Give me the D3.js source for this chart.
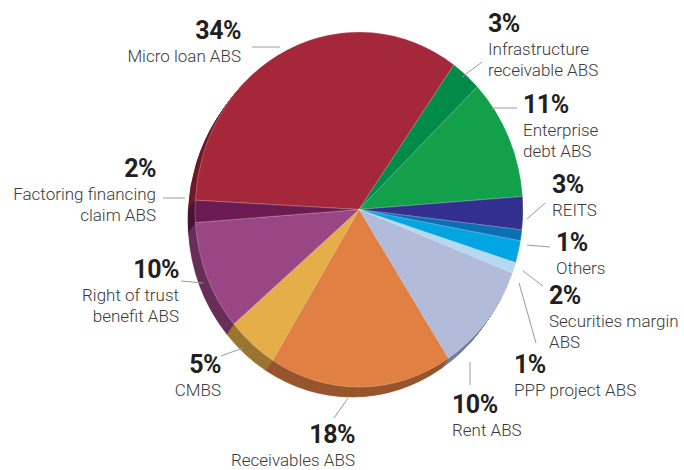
<!DOCTYPE html>
<html><head><meta charset="utf-8">
<script src="https://cdn.jsdelivr.net/npm/d3@7"></script>
<style>
html,body{margin:0;padding:0;background:#fff;}
svg{display:block;}
</style></head>
<body>
<svg id="chart" width="684" height="470"></svg>
<script>
// ---- data ----
const categories = ["Micro loan ABS","Infrastructure receivable ABS","Enterprise debt ABS","REITS","Others","Securities margin ABS","PPP project ABS","Rent ABS","Receivables ABS","CMBS","Right of trust benefit ABS","Factoring financing claim ABS"];
const values = [34,3,11,3,1,2,1,10,18,5,10,2];
const labelLines = [["Micro loan ABS"],["Infrastructure","receivable ABS"],["Enterprise","debt ABS"],["REITS"],["Others"],["Securities margin","ABS"],["PPP project ABS"],["Rent ABS"],["Receivables ABS"],["CMBS"],["Right of trust","benefit ABS"],["Factoring financing","claim ABS"]];
const colors = ["#a4283a","#008b48","#12a04a","#322f8e","#0b6fb4","#00a5e2","#b5d9f0","#b3bbdb","#e08042","#e6ae48","#9a4684","#6c1a52"];

// ---- layout (annotation positions) ----
const labelLayout = [
  {x:241,y:39,a:"end",  l:[252,47,280,47]},
  {x:488,y:32,a:"start",l:[462,77,482,62]},
  {x:523,y:113,a:"start",l:[492,108,517,108]},
  {x:552,y:193,a:"start",l:[527,219,545,203]},
  {x:556,y:251,a:"start",l:[527,245,550,247]},
  {x:549,y:304,a:"start",l:[523,271,543,286]},
  {x:514,y:373,a:"start",l:[519,283,536,343]},
  {x:452,y:413,a:"start",l:[470,362,470,385]},
  {x:355,y:443,a:"end",  l:[348,398,334,418]},
  {x:221,y:373,a:"end",  l:[243,348,221,356]},
  {x:179,y:278,a:"end",  l:[203,283,181,281]},
  {x:156,y:177,a:"end",  l:[185,198,163,198]}
];

const svg = d3.select("#chart");
const cx = 359, cy = 209.5, rx = 164, ry = 177.5, R = 100;
const depth = {dx:-7, dy:10, steps:14};

const pie = d3.pie().sort(null).value(d=>d)
  .startAngle(-87*Math.PI/180).endAngle(273*Math.PI/180);
const arcs = pie(values);
const arc = d3.arc().innerRadius(0).outerRadius(R);

const sideG = svg.append("g");
for (let s = depth.steps; s >= 1; s--) {
  const t = s/depth.steps;
  sideG.append("g")
    .attr("transform",`translate(${cx+depth.dx*t},${cy+depth.dy*t}) scale(${rx/R},${ry/R})`)
    .selectAll("path").data(arcs).join("path")
    .attr("d",arc)
    .attr("fill",(d,i)=>d3.color(colors[i]).darker(1.1))
    .attr("stroke",(d,i)=>d3.color(colors[i]).darker(1.1))
    .attr("stroke-width",0.6)
    .attr("vector-effect","non-scaling-stroke");
}
svg.append("g")
  .attr("transform",`translate(${cx},${cy}) scale(${rx/R},${ry/R})`)
  .selectAll("path").data(arcs).join("path")
  .attr("d",arc)
  .attr("fill",(d,i)=>colors[i])
  .attr("stroke","rgba(255,255,255,0.35)")
  .attr("stroke-width",0.7)
  .attr("vector-effect","non-scaling-stroke");

const lg = svg.append("g");
labelLayout.forEach((p,i)=>{
  lg.append("line")
    .attr("x1",p.l[0]).attr("y1",p.l[1]).attr("x2",p.l[2]).attr("y2",p.l[3])
    .attr("stroke","#9a9a9a").attr("stroke-width",1);
  lg.append("text")
    .attr("x",p.x).attr("y",p.y).attr("text-anchor",p.a)
    .attr("font-family","Roboto, 'Liberation Sans', sans-serif")
    .attr("font-weight","bold").attr("font-size",25)
    .attr("letter-spacing","-0.5")
    .attr("fill","#231f20")
    .text(values[i]+"%");
  labelLines[i].forEach((ln,j)=>{
    lg.append("text")
      .attr("x",p.x).attr("y",p.y+23+j*21).attr("text-anchor",p.a)
      .attr("font-family","Roboto, 'Liberation Sans', sans-serif")
      .attr("font-weight",300)
      .attr("font-size",17)
      .attr("fill","#3a3a3a")
      .text(ln);
  });
});
</script>
</body></html>
